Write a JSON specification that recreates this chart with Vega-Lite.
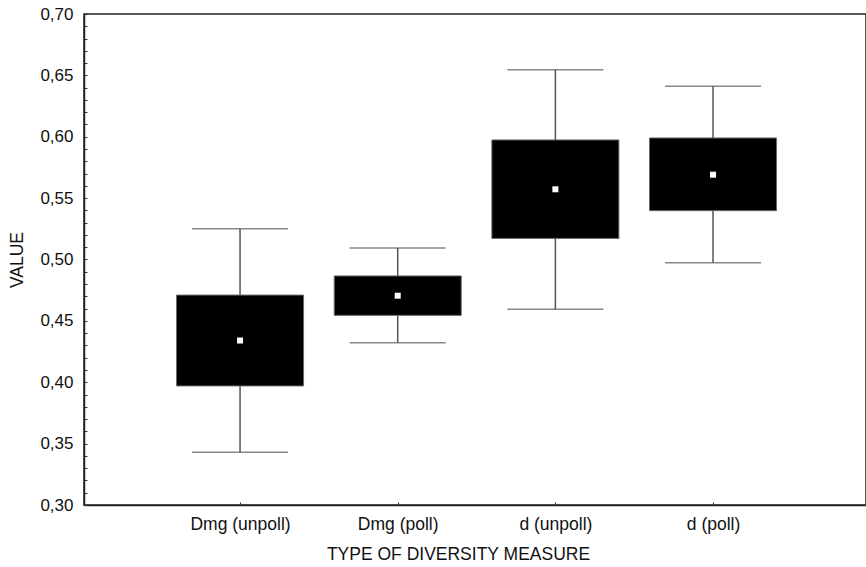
{
  "$schema": "https://vega.github.io/schema/vega-lite/v6.json",
  "width": 782,
  "height": 491,
  "autosize": {"type": "none"},
  "padding": {"left": 84, "top": 14, "right": 0, "bottom": 62},
  "background": "white",
  "config": {
    "view": {"stroke": "#222", "strokeWidth": 1.5},
    "font": "Liberation Sans",
    "axis": {"labelFont": "Liberation Sans", "titleFont": "Liberation Sans", "labelColor": "#111", "titleColor": "#111", "titleFontWeight": "normal", "domainColor": "#222", "tickColor": "#333", "grid": false, "labelOverlap": false, "labelFlush": false}
  },
  "data": {"values": [
    {"cat": "Dmg (unpoll)", "mean": 0.434, "boxLo": 0.397, "boxHi": 0.471, "wLo": 0.343, "wHi": 0.525},
    {"cat": "Dmg (poll)", "mean": 0.4705, "boxLo": 0.4545, "boxHi": 0.4866, "wLo": 0.4322, "wHi": 0.5094},
    {"cat": "d (unpoll)", "mean": 0.5572, "boxLo": 0.5172, "boxHi": 0.5974, "wLo": 0.4594, "wHi": 0.6546},
    {"cat": "d (poll)", "mean": 0.5691, "boxLo": 0.5398, "boxHi": 0.599, "wLo": 0.4974, "wHi": 0.6411}
  ]},
  "encoding": {
    "x": {
      "field": "cat", "type": "nominal", "sort": null,
      "scale": {"type": "point", "padding": 0.98, "align": 0.505},
      "axis": {"title": "TYPE OF DIVERSITY MEASURE", "labelAngle": 0, "labelFontSize": 17.5, "titleFontSize": 17.5, "tickSize": -3, "labelPadding": 13, "titlePadding": 13, "titleX": 374, "domainWidth": 1.5}
    }
  },
  "layer": [
    {
      "mark": {"type": "rule", "color": "#555", "strokeWidth": 1.5},
      "encoding": {
        "y": {"field": "wLo", "type": "quantitative", "scale": {"domain": [0.3, 0.7], "nice": false, "zero": false},
          "axis": {"title": "VALUE", "titleFontSize": 17.5, "labelFontSize": 17, "tickSize": -3, "labelPadding": 14, "titlePadding": 13, "domainWidth": 1.5, "labelOverlap": false,
            "values": [0.3,0.31,0.32,0.33,0.34,0.35,0.36,0.37,0.38,0.39,0.4,0.41,0.42,0.43,0.44,0.45,0.46,0.47,0.48,0.49,0.5,0.51,0.52,0.53,0.54,0.55,0.56,0.57,0.58,0.59,0.6,0.61,0.62,0.63,0.64,0.65,0.66,0.67,0.68,0.69,0.7],
            "labelExpr": "abs(round(datum.value*100) % 5) == 0 ? replace(format(datum.value, '.2f'), '.', ',') : ''"}},
        "y2": {"field": "wHi"}
      }
    },
    {
      "mark": {"type": "tick", "orient": "horizontal", "color": "#555", "size": 96, "thickness": 1.5},
      "encoding": {"y": {"field": "wLo", "type": "quantitative", "scale": {"domain": [0.3, 0.7], "nice": false, "zero": false},
          "axis": {"title": "VALUE", "titleFontSize": 17.5, "labelFontSize": 17, "tickSize": -3, "labelPadding": 14, "titlePadding": 13, "domainWidth": 1.5, "labelOverlap": false,
            "values": [0.3,0.31,0.32,0.33,0.34,0.35,0.36,0.37,0.38,0.39,0.4,0.41,0.42,0.43,0.44,0.45,0.46,0.47,0.48,0.49,0.5,0.51,0.52,0.53,0.54,0.55,0.56,0.57,0.58,0.59,0.6,0.61,0.62,0.63,0.64,0.65,0.66,0.67,0.68,0.69,0.7],
            "labelExpr": "abs(round(datum.value*100) % 5) == 0 ? replace(format(datum.value, '.2f'), '.', ',') : ''"}}}
    },
    {
      "mark": {"type": "tick", "orient": "horizontal", "color": "#555", "size": 96, "thickness": 1.5},
      "encoding": {"y": {"field": "wHi", "type": "quantitative", "scale": {"domain": [0.3, 0.7], "nice": false, "zero": false},
          "axis": {"title": "VALUE", "titleFontSize": 17.5, "labelFontSize": 17, "tickSize": -3, "labelPadding": 14, "titlePadding": 13, "domainWidth": 1.5, "labelOverlap": false,
            "values": [0.3,0.31,0.32,0.33,0.34,0.35,0.36,0.37,0.38,0.39,0.4,0.41,0.42,0.43,0.44,0.45,0.46,0.47,0.48,0.49,0.5,0.51,0.52,0.53,0.54,0.55,0.56,0.57,0.58,0.59,0.6,0.61,0.62,0.63,0.64,0.65,0.66,0.67,0.68,0.69,0.7],
            "labelExpr": "abs(round(datum.value*100) % 5) == 0 ? replace(format(datum.value, '.2f'), '.', ',') : ''"}}}
    },
    {
      "mark": {"type": "bar", "width": 127, "color": "black", "stroke": "#666", "strokeWidth": 1},
      "encoding": {"y": {"field": "boxLo", "type": "quantitative", "scale": {"domain": [0.3, 0.7], "nice": false, "zero": false},
          "axis": {"title": "VALUE", "titleFontSize": 17.5, "labelFontSize": 17, "tickSize": -3, "labelPadding": 14, "titlePadding": 13, "domainWidth": 1.5, "labelOverlap": false,
            "values": [0.3,0.31,0.32,0.33,0.34,0.35,0.36,0.37,0.38,0.39,0.4,0.41,0.42,0.43,0.44,0.45,0.46,0.47,0.48,0.49,0.5,0.51,0.52,0.53,0.54,0.55,0.56,0.57,0.58,0.59,0.6,0.61,0.62,0.63,0.64,0.65,0.66,0.67,0.68,0.69,0.7],
            "labelExpr": "abs(round(datum.value*100) % 5) == 0 ? replace(format(datum.value, '.2f'), '.', ',') : ''"}},
        "y2": {"field": "boxHi"}}
    },
    {
      "mark": {"type": "point", "shape": "square", "filled": true, "color": "white", "size": 36, "opacity": 1},
      "encoding": {"y": {"field": "mean", "type": "quantitative", "scale": {"domain": [0.3, 0.7], "nice": false, "zero": false},
          "axis": {"title": "VALUE", "titleFontSize": 17.5, "labelFontSize": 17, "tickSize": -3, "labelPadding": 14, "titlePadding": 13, "domainWidth": 1.5, "labelOverlap": false,
            "values": [0.3,0.31,0.32,0.33,0.34,0.35,0.36,0.37,0.38,0.39,0.4,0.41,0.42,0.43,0.44,0.45,0.46,0.47,0.48,0.49,0.5,0.51,0.52,0.53,0.54,0.55,0.56,0.57,0.58,0.59,0.6,0.61,0.62,0.63,0.64,0.65,0.66,0.67,0.68,0.69,0.7],
            "labelExpr": "abs(round(datum.value*100) % 5) == 0 ? replace(format(datum.value, '.2f'), '.', ',') : ''"}}}
    }
  ]
}
